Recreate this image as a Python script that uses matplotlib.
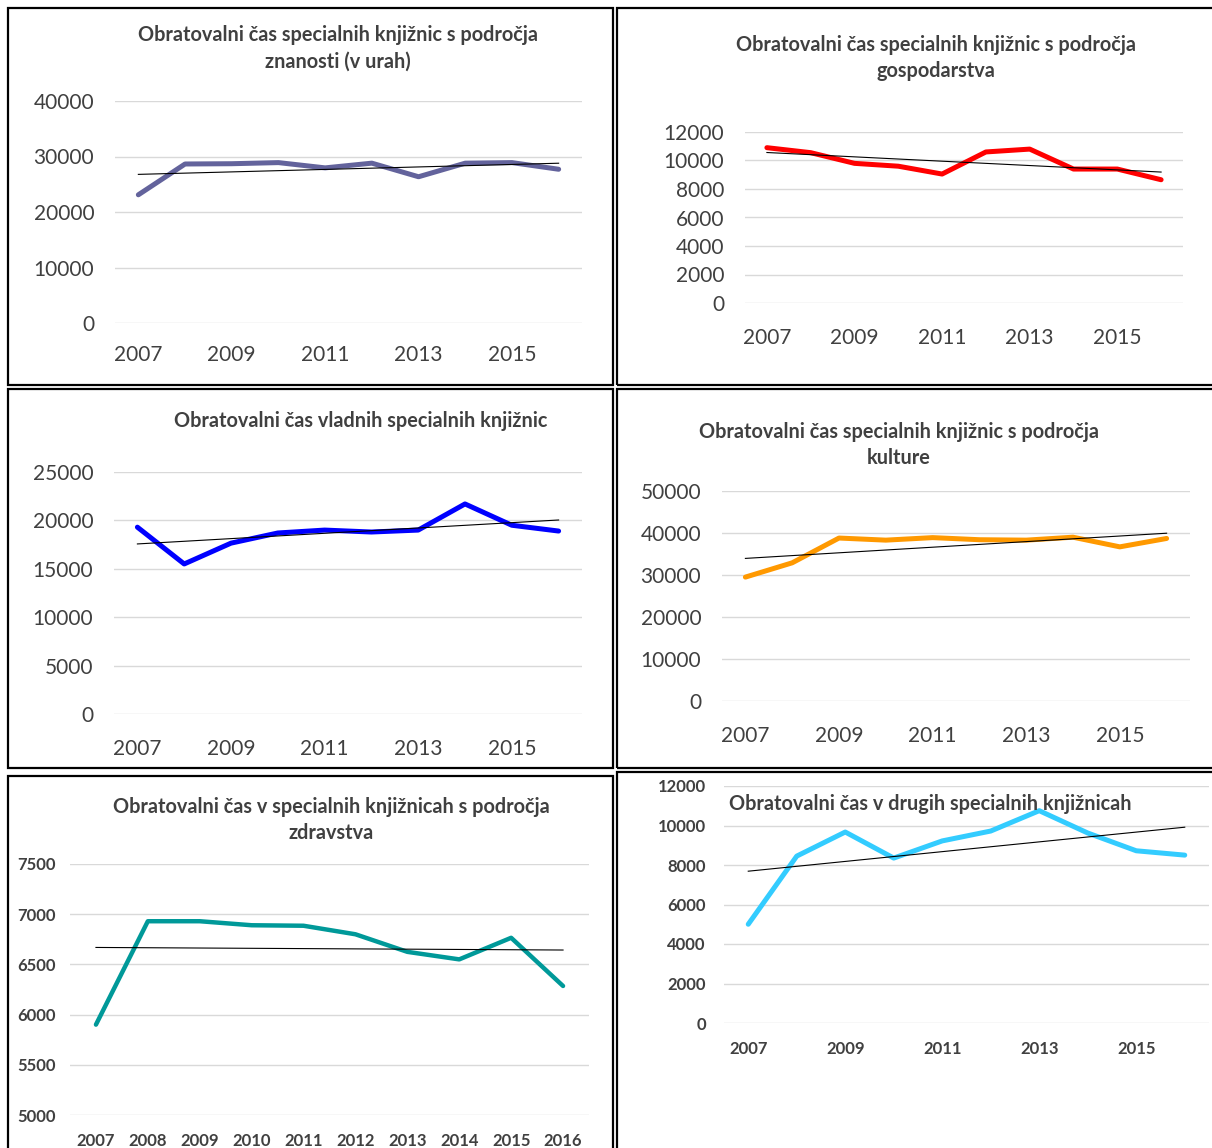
import numpy as np
import matplotlib
matplotlib.use("Agg")
import matplotlib.pyplot as plt
from matplotlib.patches import Rectangle

plt.rcParams['font.family'] = ['Lato', 'DejaVu Sans']

years = [2007, 2008, 2009, 2010, 2011, 2012, 2013, 2014, 2015, 2016]

znanost = [23100, 28650, 28700, 28900, 27950, 28800, 26350, 28800, 28900, 27700]
gospodarstvo = [10900, 10550, 9800, 9600, 9050, 10600, 10800, 9400, 9400, 8650]
vladne = [19300, 15500, 17650, 18700, 19000, 18800, 19000, 21700, 19500, 18900]
kultura = [29500, 32900, 38800, 38300, 38900, 38400, 38300, 39000, 36700, 38700]
zdravstvo = [5900, 6930, 6930, 6890, 6885, 6800, 6625, 6550, 6765, 6285]
druge = [5000, 8450, 9670, 8350, 9220, 9720, 10750, 9620, 8720, 8500]

titles = [
    'Obratovalni čas specialnih knjižnic s področja\nznanosti (v urah)',
    'Obratovalni čas specialnih knjižnic s področja\ngospodarstva',
    'Obratovalni čas vladnih specialnih knjižnic',
    'Obratovalni čas specialnih knjižnic s področja\nkulture',
    'Obratovalni čas v specialnih knjižnicah s področja\nzdravstva',
    'Obratovalni čas v drugih specialnih knjižnicah',
]

W, H = 1212, 1148
fig = plt.figure(figsize=(W / 100, H / 100), dpi=100)
TXT = '#404040'
GRID = '#D9D9D9'


def px_axes(x0, y0, x1, y1):
    return fig.add_axes([x0 / W, 1 - y1 / H, (x1 - x0) / W, (y1 - y0) / H])


def frame(x0, y0, x1, y1):
    fig.add_artist(Rectangle((x0 / W, 1 - y1 / H), (x1 - x0) / W, (y1 - y0) / H,
                             transform=fig.transFigure, fill=False,
                             edgecolor='black', linewidth=1.6))


def panel(box, values, color, yticks, title, title_xy, lw=3.6, bold_ticks=False,
          xticks=None, title_ha='center', fs=15, ypad=15, xpad=16):
    ax = px_axes(*box)
    x = np.array(years)
    ax.plot(x, values, color=color, linewidth=lw, solid_capstyle='round',
            solid_joinstyle='round', zorder=3)
    # linear trendline
    k, b = np.polyfit(x, values, 1)
    ax.plot(x, k * x + b, color='black', linewidth=0.8, zorder=4)
    ax.set_xlim(2006.5, 2016.5)
    ax.set_ylim(yticks[0], yticks[-1])
    ax.set_yticks(yticks)
    ax.set_xticks(xticks if xticks is not None else years[::2])
    for s in ax.spines.values():
        s.set_visible(False)
    ax.grid(axis='y', color=GRID, linewidth=1)
    ax.set_axisbelow(True)
    weight = 'bold' if bold_ticks else 'normal'
    ax.tick_params(length=0, colors=TXT, labelsize=fs)
    ax.tick_params(axis='y', pad=ypad)
    ax.tick_params(axis='x', pad=xpad)
    for lab in ax.get_xticklabels() + ax.get_yticklabels():
        lab.set_fontweight(weight)
    fig.text(title_xy[0] / W, 1 - title_xy[1] / H, title, ha=title_ha, va='center',
             fontsize=14.3, fontweight='bold', color=TXT, linespacing=1.42)
    return ax


panel((115, 101, 582, 323), znanost, '#63639C', [0, 10000, 20000, 30000, 40000],
      titles[0], (338, 48))
panel((745, 132, 1183, 303), gospodarstvo, '#FF0000',
      [0, 2000, 4000, 6000, 8000, 10000, 12000], titles[1], (936, 58), xpad=18)
panel((114, 472, 582, 714), vladne, '#0000FF', [0, 5000, 10000, 15000, 20000, 25000],
      titles[2], (361, 421), xpad=18)
panel((722, 491, 1190, 701), kultura, '#FF9900', [0, 10000, 20000, 30000, 40000, 50000],
      titles[3], (899, 445), xpad=18)
panel((70, 864, 589, 1115), zdravstvo, '#009999',
      [5000, 5500, 6000, 6500, 7000, 7500], titles[4], (331, 820), lw=3.2,
      bold_ticks=True, xticks=years, fs=12, ypad=10, xpad=13)
panel((724, 786, 1209, 1023), druge, '#33CCFF',
      [0, 2000, 4000, 6000, 8000, 10000, 12000], titles[5], (729, 804),
      bold_ticks=True, title_ha='left', fs=12, ypad=13, xpad=13)

frame(8, 8, 613, 385)
frame(617, 8, 1216, 385)
frame(8, 389, 613, 768)
frame(617, 389, 1216, 768)
frame(8, 776, 613, 1152)
frame(617, 772, 1216, 1152)

fig.savefig('out.png', dpi=100, facecolor='white')
